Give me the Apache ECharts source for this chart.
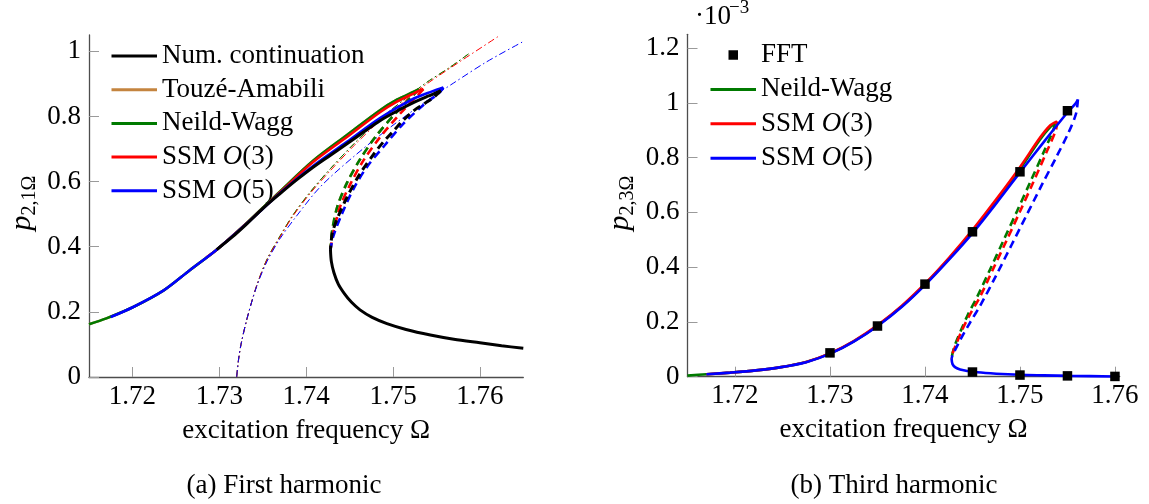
<!DOCTYPE html>
<html>
<head>
<meta charset="utf-8">
<script src="https://cdn.jsdelivr.net/npm/echarts@6/dist/echarts.min.js"></script>
<style>
html,body{margin:0;padding:0;background:#fff;}
#chart{width:1149px;height:504px;}
</style>
</head>
<body>
<div id="chart"></div>
<script>
// ---------- Data: (a) first harmonic p_{2,1Ω} ----------
const xTicks = [1.72, 1.73, 1.74, 1.75, 1.76];
const yTicksA = [0, 0.2, 0.4, 0.6, 0.8, 1];
const yTicksB = [0, 0.2, 0.4, 0.6, 0.8, 1, 1.2];

// Num. continuation
const numUpX = [1.7297, 1.7315, 1.7332, 1.735, 1.737, 1.7389, 1.7408, 1.7428, 1.7447, 1.7466, 1.7485, 1.7505, 1.7524, 1.754, 1.755, 1.7555];
const numUpY = [0.391, 0.43, 0.471, 0.517, 0.563, 0.605, 0.644, 0.681, 0.716, 0.752, 0.787, 0.817, 0.843, 0.862, 0.873, 0.879];
const numUnX = [1.7555, 1.7547, 1.7536, 1.7524, 1.7512, 1.7501, 1.7489, 1.7478, 1.7462, 1.7447, 1.7435, 1.743, 1.7428];
const numUnY = [0.879, 0.859, 0.839, 0.818, 0.789, 0.757, 0.722, 0.685, 0.624, 0.552, 0.481, 0.44, 0.39];
const numLoX = [1.7428, 1.7429, 1.7432, 1.7437, 1.7444, 1.7452, 1.7462, 1.7476, 1.7493, 1.7515, 1.7543, 1.757, 1.76, 1.7625, 1.765];
const numLoY = [0.39, 0.355, 0.32, 0.285, 0.256, 0.23, 0.206, 0.183, 0.164, 0.146, 0.129, 0.116, 0.105, 0.096, 0.088];

// Touzé-Amabili
const taUpX = [1.715, 1.717, 1.7201, 1.7236, 1.7266, 1.7297, 1.7332, 1.737, 1.7408, 1.7447, 1.7485, 1.7505, 1.7524, 1.753];
const taUpY = [0.162, 0.18, 0.215, 0.266, 0.328, 0.391, 0.474, 0.57, 0.664, 0.743, 0.819, 0.852, 0.876, 0.884];
const taUnX = [1.753, 1.7522, 1.7503, 1.748, 1.7462, 1.7447, 1.7436, 1.743, 1.7428];
const taUnY = [0.884, 0.862, 0.81, 0.738, 0.668, 0.596, 0.524, 0.45, 0.39];
const taBbX = [1.732, 1.7322, 1.7325, 1.7332, 1.7343, 1.7355, 1.737, 1.7385, 1.7405, 1.7428, 1.7455, 1.7485, 1.7512, 1.7539, 1.7565, 1.7589];
const taBbY = [0, 0.05, 0.1, 0.18, 0.28, 0.362, 0.433, 0.498, 0.569, 0.64, 0.716, 0.792, 0.85, 0.905, 0.95, 0.996];

// Neild-Wagg
const nwUpX = [1.715, 1.717, 1.7201, 1.7236, 1.7266, 1.7297, 1.7332, 1.737, 1.7408, 1.7447, 1.7485, 1.7505, 1.7524, 1.753];
const nwUpY = [0.162, 0.18, 0.215, 0.266, 0.328, 0.391, 0.474, 0.57, 0.664, 0.743, 0.819, 0.852, 0.876, 0.884];
const nwUnX = [1.753, 1.7522, 1.7503, 1.748, 1.7462, 1.7447, 1.7436, 1.743, 1.7428];
const nwUnY = [0.884, 0.862, 0.81, 0.738, 0.668, 0.596, 0.524, 0.45, 0.39];
const nwBbX = [1.732, 1.7322, 1.7325, 1.7332, 1.7343, 1.7355, 1.737, 1.7385, 1.7405, 1.7428, 1.7455, 1.7485, 1.7512, 1.7539, 1.7565, 1.7589];
const nwBbY = [0, 0.05, 0.1, 0.18, 0.28, 0.362, 0.433, 0.498, 0.569, 0.64, 0.716, 0.792, 0.85, 0.905, 0.95, 0.996];

// SSM O(3)
const s3UpX = [1.7285, 1.7297, 1.7332, 1.737, 1.7408, 1.7447, 1.7485, 1.7505, 1.7524, 1.7535];
const s3UpY = [0.367, 0.391, 0.473, 0.567, 0.66, 0.737, 0.813, 0.846, 0.871, 0.884];
const s3UnX = [1.7535, 1.7528, 1.7508, 1.7485, 1.7466, 1.7451, 1.7439, 1.7431, 1.7428];
const s3UnY = [0.884, 0.864, 0.808, 0.736, 0.665, 0.593, 0.522, 0.44, 0.39];
const s3BbX = [1.732, 1.7322, 1.7325, 1.7332, 1.7343, 1.7355, 1.737, 1.7385, 1.7405, 1.7428, 1.7455, 1.7485, 1.7512, 1.7539, 1.7578, 1.7622];
const s3BbY = [0, 0.05, 0.1, 0.18, 0.28, 0.36, 0.43, 0.495, 0.565, 0.634, 0.71, 0.787, 0.845, 0.9, 0.97, 1.047];

// SSM O(5)
const s5UpX = [1.7175, 1.7201, 1.7236, 1.7266, 1.7297, 1.7332, 1.737, 1.7408, 1.7447, 1.7485, 1.7524, 1.7545, 1.7558];
const s5UpY = [0.184, 0.215, 0.266, 0.328, 0.391, 0.472, 0.565, 0.648, 0.722, 0.795, 0.855, 0.877, 0.889];
const s5UnX = [1.7558, 1.7553, 1.7535, 1.7512, 1.749, 1.747, 1.7455, 1.7441, 1.7431, 1.7428];
const s5UnY = [0.889, 0.872, 0.835, 0.778, 0.71, 0.645, 0.58, 0.5, 0.43, 0.39];
const s5BbX = [1.732, 1.7322, 1.7325, 1.7332, 1.7343, 1.7355, 1.737, 1.7388, 1.7416, 1.7454, 1.7497, 1.7539, 1.757, 1.7608, 1.765];
const s5BbY = [0, 0.05, 0.1, 0.18, 0.278, 0.355, 0.425, 0.491, 0.583, 0.675, 0.767, 0.848, 0.903, 0.968, 1.03];

// ---------- Data: (b) third harmonic p_{2,3Ω} (units of 1e-3) ----------
const fftX = [1.73, 1.735, 1.74, 1.745, 1.75, 1.755, 1.745, 1.75, 1.755, 1.76];
const fftY = [0.087, 0.185, 0.338, 0.529, 0.748, 0.971, 0.017, 0.006, 0.003, 0.001];

const h3nwUpX = [1.715, 1.717, 1.7195, 1.7222, 1.7247, 1.7275, 1.7301, 1.7325, 1.7351, 1.7376, 1.7401, 1.7426, 1.7451, 1.7476, 1.75, 1.7521, 1.7532, 1.7537];
const h3nwUpY = [0.004, 0.009, 0.015, 0.023, 0.034, 0.054, 0.086, 0.129, 0.189, 0.258, 0.341, 0.434, 0.535, 0.646, 0.758, 0.865, 0.912, 0.925];
const h3nwUnX = [1.7537, 1.7535, 1.7525, 1.7511, 1.7497, 1.7483, 1.7469, 1.7455, 1.7445, 1.7438, 1.7432, 1.7429, 1.7428];
const h3nwUnY = [0.925, 0.9, 0.82, 0.712, 0.605, 0.5, 0.395, 0.292, 0.225, 0.17, 0.12, 0.085, 0.065];

const h3s3UpX = [1.717, 1.7195, 1.7222, 1.7247, 1.7275, 1.7301, 1.7325, 1.7351, 1.7376, 1.7401, 1.7426, 1.7451, 1.7476, 1.75, 1.7521, 1.7532, 1.7539];
const h3s3UpY = [0.009, 0.015, 0.023, 0.034, 0.054, 0.087, 0.13, 0.19, 0.26, 0.343, 0.437, 0.54, 0.652, 0.765, 0.872, 0.918, 0.932];
const h3s3UnX = [1.7539, 1.7538, 1.7528, 1.7514, 1.75, 1.7486, 1.7472, 1.7458, 1.7447, 1.7439, 1.7433, 1.7429, 1.7428];
const h3s3UnY = [0.932, 0.902, 0.82, 0.71, 0.603, 0.498, 0.395, 0.292, 0.225, 0.17, 0.12, 0.085, 0.065];

const h3s5UpX = [1.717, 1.7195, 1.7222, 1.7247, 1.7275, 1.7301, 1.7325, 1.7351, 1.7376, 1.7401, 1.7426, 1.7451, 1.7476, 1.7501, 1.7526, 1.7551, 1.7558, 1.7561];
const h3s5UpY = [0.009, 0.015, 0.023, 0.034, 0.053, 0.085, 0.128, 0.187, 0.256, 0.338, 0.43, 0.528, 0.637, 0.75, 0.861, 0.969, 0.995, 1.012];
const h3s5UnX = [1.7561, 1.7559, 1.7551, 1.7538, 1.7523, 1.7507, 1.7491, 1.7475, 1.7459, 1.7447, 1.7438, 1.7432, 1.7429, 1.7428];
const h3s5UnY = [1.012, 0.96, 0.89, 0.8, 0.7, 0.59, 0.48, 0.37, 0.265, 0.195, 0.14, 0.1, 0.08, 0.065];
const h3s5LoX = [1.7428, 1.7429, 1.7432, 1.7437, 1.7445, 1.7455, 1.7475, 1.75, 1.7525, 1.7553, 1.76];
const h3s5LoY = [0.065, 0.046, 0.034, 0.026, 0.021, 0.016, 0.011, 0.007, 0.005, 0.003, 0.001];

// ---------- Styling ----------
const FONT = '"Liberation Serif", "Times New Roman", "DejaVu Serif", serif';
const C_BLACK = '#000000', C_TA = '#c4843f', C_NW = '#007a00', C_S3 = '#ff0000', C_S5 = '#0000ff';
const N_NUM = 'Num. continuation', N_TA = 'Touzé-Amabili', N_NW = 'Neild-Wagg', N_S3 = 'SSM O(3)', N_S5 = 'SSM O(5)', N_FFT = 'FFT';

function pairs(xs, ys) { return xs.map((x, i) => [x, ys[i]]); }
function seg(name, xs, ys, color, kind, g, z) {
  const type = kind === 'solid' ? 'solid' : (kind === 'dash' ? [8, 5] : [7, 3, 1.5, 3]);
  const width = kind === 'dashdot' ? 1 : (color === C_BLACK ? 3 : 2.6);
  return {
    type: 'line', name, data: pairs(xs, ys), xAxisIndex: g, yAxisIndex: g,
    symbol: 'none', showSymbol: false, smooth: 0.3, silent: true, clip: true,
    lineStyle: { color, width, type }, itemStyle: { color }, z
  };
}

const series = [
  // (a) – solids first for legend icons
  seg(N_NUM, numUpX, numUpY, C_BLACK, 'solid', 0, 8),
  seg(N_TA, taUpX, taUpY, C_TA, 'solid', 0, 3),
  seg(N_NW, nwUpX, nwUpY, C_NW, 'solid', 0, 4),
  seg(N_S3, s3UpX, s3UpY, C_S3, 'solid', 0, 5),
  seg(N_S5, s5UpX, s5UpY, C_S5, 'solid', 0, 6),
  seg(N_NUM, numUnX, numUnY, C_BLACK, 'dash', 0, 8),
  seg(N_NUM, numLoX, numLoY, C_BLACK, 'solid', 0, 8),
  seg(N_TA, taUnX, taUnY, C_TA, 'dash', 0, 3),
  seg(N_NW, nwUnX, nwUnY, C_NW, 'dash', 0, 4),
  seg(N_S3, s3UnX, s3UnY, C_S3, 'dash', 0, 5),
  seg(N_S5, s5UnX, s5UnY, C_S5, 'dash', 0, 6),
  seg(N_TA, taBbX, taBbY, C_TA, 'dashdot', 0, 1),
  seg(N_NW, nwBbX, nwBbY, C_NW, 'dashdot', 0, 1),
  seg(N_S3, s3BbX, s3BbY, C_S3, 'dashdot', 0, 1),
  seg(N_S5, s5BbX, s5BbY, C_S5, 'dashdot', 0, 1),
  // (b)
  seg(N_NW, h3nwUpX, h3nwUpY, C_NW, 'solid', 1, 4),
  seg(N_S3, h3s3UpX, h3s3UpY, C_S3, 'solid', 1, 5),
  seg(N_S5, h3s5UpX, h3s5UpY, C_S5, 'solid', 1, 6),
  seg(N_NW, h3nwUnX, h3nwUnY, C_NW, 'dash', 1, 4),
  seg(N_S3, h3s3UnX, h3s3UnY, C_S3, 'dash', 1, 5),
  seg(N_S5, h3s5UnX, h3s5UnY, C_S5, 'dash', 1, 6),
  seg(N_S5, h3s5LoX, h3s5LoY, C_S5, 'solid', 1, 6),
  {
    type: 'line', name: N_FFT, data: pairs(fftX, fftY), xAxisIndex: 1, yAxisIndex: 1,
    symbol: 'rect', symbolSize: 9.5, showSymbol: true, silent: true, clip: false,
    lineStyle: { width: 0, opacity: 0 }, itemStyle: { color: '#000' }, z: 10
  }
];

const LINE_ICON = 'path://M0,0H45V3H0Z';
const SQ_ICON = 'path://M0,0H10V10H0Z';
const legendText = {
  fontFamily: FONT, fontSize: 27, color: '#000',
  rich: {
    t: { fontFamily: FONT, fontSize: 27, color: '#000' },
    i: { fontFamily: FONT, fontSize: 27, color: '#000', fontStyle: 'italic' }
  }
};
function legendFmt(name) {
  const m = name.match(/^SSM O(\(\d\))$/);
  if (m) return '{t|SSM }{i|O}{t|' + m[1] + '}';
  return name;
}

function xAxisCfg(g, max) {
  return {
    type: 'value', gridIndex: g, min: 1.715, max: max,
    name: 'excitation frequency Ω', nameLocation: 'middle', nameGap: 40,
    nameTextStyle: { fontFamily: FONT, fontSize: 27, color: '#000' },
    axisLine: { show: true, onZero: false, lineStyle: { color: '#4d4d4d', width: 1.3 } },
    axisTick: { show: true, inside: true, length: 10, customValues: xTicks, lineStyle: { color: '#9a9a9a', width: 1 } },
    axisLabel: { show: true, customValues: xTicks, margin: 6, fontFamily: FONT, fontSize: 27, color: '#000',
      formatter: v => String(Math.round(v * 100) / 100) },
    splitLine: { show: false }
  };
}
function yAxisCfg(g, max, ticks) {
  return {
    type: 'value', gridIndex: g, min: 0, max: max,
    axisLine: { show: true, onZero: false, lineStyle: { color: '#4d4d4d', width: 1.3 } },
    axisTick: { show: true, inside: true, length: 10, customValues: ticks, lineStyle: { color: '#9a9a9a', width: 1 } },
    axisLabel: { show: true, customValues: ticks, margin: 8, fontFamily: FONT, fontSize: 27, color: '#000',
      formatter: v => String(Math.round(v * 10) / 10) },
    splitLine: { show: false }
  };
}

const yLabelRich = {
  p: { fontFamily: FONT, fontStyle: 'italic', fontSize: 30, lineHeight: 36, verticalAlign: 'middle', fill: '#000' },
  s: { fontFamily: FONT, fontSize: 20, verticalAlign: 'bottom', fill: '#000' }
};

const option = {
  animation: false,
  backgroundColor: '#ffffff',
  grid: [
    { left: 89, top: 35, width: 434.3, height: 342 },
    { left: 687.5, top: 34.3, width: 432.2, height: 342.4 }
  ],
  xAxis: [xAxisCfg(0, 1.765), xAxisCfg(1, 1.7605)],
  yAxis: [yAxisCfg(0, 1.05, yTicksA), yAxisCfg(1, 1.25, yTicksB)],
  legend: [
    {
      orient: 'vertical', left: 111.5, top: 42.5, padding: 0, itemGap: 6.7,
      itemWidth: 45.5, itemHeight: 9.5, selectedMode: false,
      itemStyle: { borderWidth: 0 },
      textStyle: legendText, formatter: legendFmt,
      data: [N_NUM, N_TA, N_NW, N_S3, N_S5].map(n => ({ name: n, icon: LINE_ICON }))
    },
    {
      orient: 'vertical', left: 710.5, top: 41.5, padding: 0, itemGap: 7.4,
      itemWidth: 45.5, itemHeight: 9.5, selectedMode: false,
      itemStyle: { borderWidth: 0 },
      textStyle: legendText, formatter: legendFmt,
      data: [{ name: N_FFT, icon: SQ_ICON }].concat([N_NW, N_S3, N_S5].map(n => ({ name: n, icon: LINE_ICON })))
    }
  ],
  title: [
    { text: '(a) First harmonic', left: 284, top: 472, padding: 0, textAlign: 'center',
      textStyle: { fontFamily: FONT, fontSize: 27, fontWeight: 'normal', color: '#000' } },
    { text: '(b) Third harmonic', left: 894, top: 472, padding: 0, textAlign: 'center',
      textStyle: { fontFamily: FONT, fontSize: 27, fontWeight: 'normal', color: '#000' } }
  ],
  graphic: [
    { type: 'text', x: 22, y: 203, rotation: Math.PI / 2, silent: true,
      style: { text: '{p|p}{s|2,1Ω}', align: 'center', verticalAlign: 'middle', fill: '#000', rich: yLabelRich } },
    { type: 'text', x: 620, y: 203, rotation: Math.PI / 2, silent: true,
      style: { text: '{p|p}{s|2,3Ω}', align: 'center', verticalAlign: 'middle', fill: '#000', rich: yLabelRich } },
    { type: 'text', x: 695, y: 17, silent: true,
      style: { text: '·10', fontFamily: FONT, fontSize: 27, fill: '#000', align: 'left', verticalAlign: 'middle' } },
    { type: 'text', x: 729, y: 8.5, silent: true,
      style: { text: '−3', fontFamily: FONT, fontSize: 19, fill: '#000', align: 'left', verticalAlign: 'middle' } }
  ],
  series: series
};

const chart = echarts.init(document.getElementById('chart'), null, { renderer: 'canvas' });
chart.setOption(option);
</script>
</body>
</html>
